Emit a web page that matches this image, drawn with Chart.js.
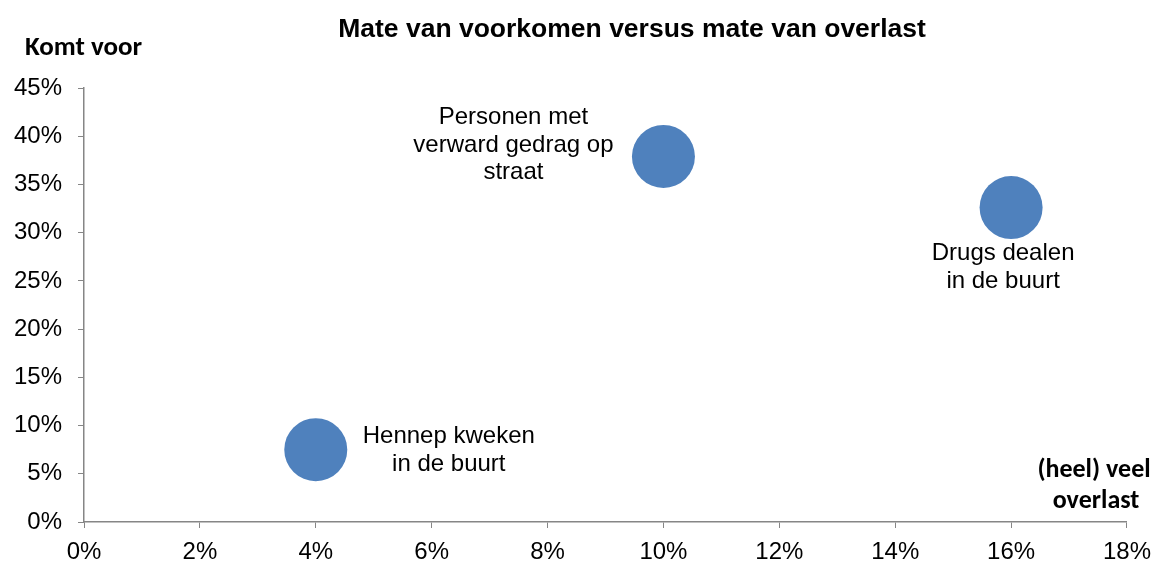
<!DOCTYPE html>
<html>
<head>
<meta charset="utf-8">
<script src="https://cdn.jsdelivr.net/npm/chart.js@4/dist/chart.umd.min.js"></script>
<style>
  body { margin: 0; background: #fff; }
  canvas { display: block; }
</style>
</head>
<body>
<canvas id="bubbleChart" width="1161" height="563"></canvas>
<script>
// data
var categories = ['Hennep kweken in de buurt', 'Personen met verward gedrag op straat', 'Drugs dealen in de buurt'];
var overlast = [4, 10, 16];        // x: (heel) veel overlast, in %
var voorkomen = [7.5, 37.9, 32.6]; // y: komt voor, in %
var labelLines = [
    ['Hennep kweken', 'in de buurt'],
    ['Personen met', 'verward gedrag op', 'straat'],
    ['Drugs dealen', 'in de buurt'],
];
var xTicks = [0, 2, 4, 6, 8, 10, 12, 14, 16, 18];
var yTicks = [0, 5, 10, 15, 20, 25, 30, 35, 40, 45];

var chartTitle = 'Mate van voorkomen versus mate van overlast';
var yTitle = 'Komt voor';
var xTitle = ['(heel) veel', 'overlast'];

// where each label sits relative to its bubble
var labelPlace = [
    { dx: 133, dy: -13 },
    { dx: -150, dy: -39 },
    { dx: -8, dy: 46 },
];

var arial = '"Liberation Sans", Arial, sans-serif';
var calibri = 'Carlito, Calibri, Lato, sans-serif';
var axisColor = '#868686';

var textPlugin = {
    id: 'textPlugin',
    afterDatasetsDraw: function(chart) {
        var ctx = chart.ctx;
        var meta = chart.getDatasetMeta(0);
        ctx.save();
        ctx.fillStyle = '#000';

        // data labels
        ctx.font = '24px ' + arial;
        ctx.textAlign = 'center';
        ctx.textBaseline = 'middle';
        meta.data.forEach(function(pt, i) {
            var p = labelPlace[i];
            labelLines[i].forEach(function(line, j) {
                ctx.fillText(line, pt.x + p.dx, pt.y + p.dy + j * 27.5);
            });
        });

        // title
        ctx.textBaseline = 'alphabetic';
        ctx.font = 'bold 26.5px ' + arial;
        ctx.fillText(chartTitle, 632, 37);

        // axis titles
        ctx.font = 'bold 27px ' + calibri;
        ctx.textAlign = 'left';
        ctx.fillText(yTitle, 25, 55);
        ctx.font = 'bold 26px ' + calibri;
        ctx.textAlign = 'center';
        ctx.fillText(xTitle[0], 1094, 477);
        ctx.fillText(xTitle[1], 1096, 508);
        ctx.restore();
    }
};

var bubbleCanvas = document.getElementById('bubbleChart').getContext('2d');
var bubbleChart = new Chart(bubbleCanvas, {
    type: 'scatter',
    data: {
        labels: categories,
        datasets: [{
            label: 'Overlast',
            data: overlast.map(function(v, i) { return { x: v, y: voorkomen[i] }; }),
            backgroundColor: '#4F81BD',
            borderColor: '#4F81BD',
            borderWidth: 0,
            pointRadius: 31.5,
            pointHoverRadius: 31.5,
        }],
    },
    options: {
        responsive: false,
        animation: false,
        events: [],
        layout: {
            padding: { top: 88, right: 33, left: 0, bottom: 0 },
        },
        plugins: {
            legend: { display: false },
            title: { display: false },
            tooltip: { enabled: false },
        },
        scales: {
            x: {
                type: 'linear',
                min: xTicks[0],
                max: xTicks[xTicks.length - 1],
                afterBuildTicks: function(scale) {
                    scale.ticks = xTicks.map(function(v) { return { value: v }; });
                },
                afterFit: function(scale) { scale.height = 41; },
                ticks: {
                    padding: 10,
                    color: '#000',
                    font: { family: arial, size: 24 },
                    maxRotation: 0,
                    callback: function(v) { return v + '%'; },
                },
                grid: {
                    drawOnChartArea: false,
                    drawTicks: true,
                    tickLength: 6,
                    color: axisColor,
                },
                border: { display: true, color: axisColor, width: 1.5 },
            },
            y: {
                type: 'linear',
                min: yTicks[0],
                max: yTicks[yTicks.length - 1],
                afterBuildTicks: function(scale) {
                    scale.ticks = yTicks.map(function(v) { return { value: v }; });
                },
                afterFit: function(scale) { scale.width = 84; },
                ticks: {
                    padding: 16,
                    color: '#000',
                    font: { family: arial, size: 24 },
                    callback: function(v) { return v + '%'; },
                },
                grid: {
                    drawOnChartArea: false,
                    drawTicks: true,
                    tickLength: 6,
                    color: axisColor,
                },
                border: { display: true, color: axisColor, width: 1.5 },
            },
        },
    },
    plugins: [textPlugin],
});
</script>
</body>
</html>
